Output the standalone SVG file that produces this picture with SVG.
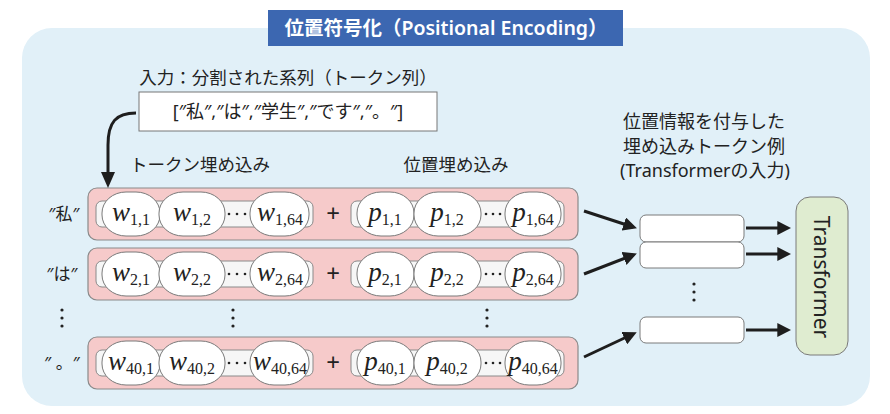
<svg xmlns="http://www.w3.org/2000/svg" width="890" height="414" viewBox="0 0 890 414">
<defs>
<style>
.jp{font-family:"Noto Sans","Noto Sans CJK JP",sans-serif;fill:#222;}
.row{fill:#f6caca;stroke:#8a8a8a;stroke-width:1.2;}
.bar{fill:#f6f6f6;stroke:#8a8a8a;stroke-width:1;}
.ov{fill:#fff;stroke:#7a7a7a;stroke-width:1;}
.m{font-family:"Liberation Serif","DejaVu Serif",serif;font-size:27px;fill:#222;font-style:italic;}
.sub{font-style:normal;font-size:16px;}
.out{fill:#fff;stroke:#7a7a7a;stroke-width:1;}
.con{stroke:#1e1e1e;stroke-width:3;fill:none;}
.dot{fill:#222;}
</style>
<marker id="ah" viewBox="0 0 10 10" markerWidth="4.6" markerHeight="4.6" refX="7" refY="5" orient="auto" markerUnits="strokeWidth">
<path d="M0,0 L10,5 L0,10 z" fill="#1e1e1e"/>
</marker>
</defs>
<rect x="22" y="28" width="848" height="378" rx="30" fill="#e1f0f8"/>
<g id="title">
<rect x="268" y="10" width="355" height="36" fill="#3c67b1"/>
<text x="446" y="35" text-anchor="middle" font-family="'Noto Sans','Noto Sans CJK JP',sans-serif" font-size="19.5" font-weight="600" fill="#fff">位置符号化（Positional Encoding）</text>
</g>
<g id="input">
<text class="jp" x="288" y="84" text-anchor="middle" font-size="17.5">入力：分割された系列（トークン列）</text>
<rect x="139" y="92" width="298" height="39" fill="#fff" stroke="#777" stroke-width="1"/>
<text class="jp" x="288" y="118" text-anchor="middle" font-size="18">[″私″,″は″,″学生″,″です″,″。″]</text>
</g>
<g id="headers">
<text class="jp" x="200" y="171" text-anchor="middle" font-size="17.5">トークン埋め込み</text>
<text class="jp" x="456" y="171" text-anchor="middle" font-size="17.5">位置埋め込み</text>
<text class="jp" x="704" y="128" text-anchor="middle" font-size="18">位置情報を付与した</text>
<text class="jp" x="704" y="153" text-anchor="middle" font-size="18">埋め込みトークン例</text>
<text class="jp" x="705" y="177" text-anchor="middle" font-size="18">(Transformerの入力)</text>
</g>
<g id="row1">
<text class="jp" x="64" y="220" text-anchor="middle" font-size="17">″私″</text>
<rect class="row" x="88" y="188" width="490" height="52" rx="9"/>
<rect class="bar" x="96" y="201" width="217" height="26" rx="6"/>
<rect class="ov" x="102" y="192" width="58" height="44" rx="24" ry="21"/>
<rect class="ov" x="159" y="192" width="66" height="44" rx="24" ry="21"/>
<rect class="ov" x="250" y="192" width="59" height="44" rx="24" ry="21"/>
<text class="m" x="131" y="221" text-anchor="middle">w<tspan class="sub" dy="4">1,1</tspan></text>
<text class="m" x="192" y="221" text-anchor="middle">w<tspan class="sub" dy="4">1,2</tspan></text>
<text class="m" x="280" y="221" text-anchor="middle">w<tspan class="sub" dy="4">1,64</tspan></text>
<circle class="dot" cx="229" cy="214" r="1.3"/><circle class="dot" cx="237" cy="214" r="1.3"/><circle class="dot" cx="245" cy="214" r="1.3"/>
<text class="jp" x="333" y="222" text-anchor="middle" font-size="24">+</text>
<rect class="bar" x="351" y="201" width="213" height="26" rx="6"/>
<rect class="ov" x="357" y="192" width="57" height="44" rx="24" ry="21"/>
<rect class="ov" x="414" y="192" width="67" height="44" rx="24" ry="21"/>
<rect class="ov" x="505" y="192" width="56" height="44" rx="24" ry="21"/>
<text class="m" x="385" y="221" text-anchor="middle">p<tspan class="sub" dy="4">1,1</tspan></text>
<text class="m" x="447" y="221" text-anchor="middle">p<tspan class="sub" dy="4">1,2</tspan></text>
<text class="m" x="533" y="221" text-anchor="middle">p<tspan class="sub" dy="4">1,64</tspan></text>
<circle class="dot" cx="486" cy="214" r="1.3"/><circle class="dot" cx="493" cy="214" r="1.3"/><circle class="dot" cx="500" cy="214" r="1.3"/>
</g>
<g id="row2">
<text class="jp" x="62" y="280" text-anchor="middle" font-size="17">″は″</text>
<rect class="row" x="88" y="248" width="490" height="52" rx="9"/>
<rect class="bar" x="96" y="261" width="217" height="26" rx="6"/>
<rect class="ov" x="102" y="252" width="58" height="44" rx="24" ry="21"/>
<rect class="ov" x="159" y="252" width="66" height="44" rx="24" ry="21"/>
<rect class="ov" x="250" y="252" width="59" height="44" rx="24" ry="21"/>
<text class="m" x="131" y="281" text-anchor="middle">w<tspan class="sub" dy="4">2,1</tspan></text>
<text class="m" x="192" y="281" text-anchor="middle">w<tspan class="sub" dy="4">2,2</tspan></text>
<text class="m" x="280" y="281" text-anchor="middle">w<tspan class="sub" dy="4">2,64</tspan></text>
<circle class="dot" cx="229" cy="274" r="1.3"/><circle class="dot" cx="237" cy="274" r="1.3"/><circle class="dot" cx="245" cy="274" r="1.3"/>
<text class="jp" x="333" y="282" text-anchor="middle" font-size="24">+</text>
<rect class="bar" x="351" y="261" width="213" height="26" rx="6"/>
<rect class="ov" x="357" y="252" width="57" height="44" rx="24" ry="21"/>
<rect class="ov" x="414" y="252" width="67" height="44" rx="24" ry="21"/>
<rect class="ov" x="505" y="252" width="56" height="44" rx="24" ry="21"/>
<text class="m" x="385" y="281" text-anchor="middle">p<tspan class="sub" dy="4">2,1</tspan></text>
<text class="m" x="447" y="281" text-anchor="middle">p<tspan class="sub" dy="4">2,2</tspan></text>
<text class="m" x="533" y="281" text-anchor="middle">p<tspan class="sub" dy="4">2,64</tspan></text>
<circle class="dot" cx="486" cy="274" r="1.3"/><circle class="dot" cx="493" cy="274" r="1.3"/><circle class="dot" cx="500" cy="274" r="1.3"/>
</g>
<g id="vdots">
<circle class="dot" cx="62" cy="310" r="1.6"/><circle class="dot" cx="62" cy="318" r="1.6"/><circle class="dot" cx="62" cy="326" r="1.6"/>
<circle class="dot" cx="233" cy="310" r="1.6"/><circle class="dot" cx="233" cy="318" r="1.6"/><circle class="dot" cx="233" cy="326" r="1.6"/>
<circle class="dot" cx="487" cy="310" r="1.6"/><circle class="dot" cx="487" cy="318" r="1.6"/><circle class="dot" cx="487" cy="326" r="1.6"/>
<circle class="dot" cx="694" cy="284" r="1.6"/><circle class="dot" cx="694" cy="292" r="1.6"/><circle class="dot" cx="694" cy="300" r="1.6"/>
</g>
<g id="row3">
<text class="jp" x="62" y="369" text-anchor="middle" font-size="17">″ 。″</text>
<rect class="row" x="88" y="337" width="490" height="52" rx="9"/>
<rect class="bar" x="96" y="350" width="217" height="26" rx="6"/>
<rect class="ov" x="102" y="341" width="58" height="44" rx="24" ry="21"/>
<rect class="ov" x="159" y="341" width="66" height="44" rx="24" ry="21"/>
<rect class="ov" x="250" y="341" width="59" height="44" rx="24" ry="21"/>
<text class="m" x="131" y="370" text-anchor="middle">w<tspan class="sub" dy="4">40,1</tspan></text>
<text class="m" x="192" y="370" text-anchor="middle">w<tspan class="sub" dy="4">40,2</tspan></text>
<text class="m" x="280" y="370" text-anchor="middle">w<tspan class="sub" dy="4">40,64</tspan></text>
<circle class="dot" cx="229" cy="363" r="1.3"/><circle class="dot" cx="237" cy="363" r="1.3"/><circle class="dot" cx="245" cy="363" r="1.3"/>
<text class="jp" x="333" y="371" text-anchor="middle" font-size="24">+</text>
<rect class="bar" x="351" y="350" width="213" height="26" rx="6"/>
<rect class="ov" x="357" y="341" width="57" height="44" rx="24" ry="21"/>
<rect class="ov" x="414" y="341" width="67" height="44" rx="24" ry="21"/>
<rect class="ov" x="505" y="341" width="56" height="44" rx="24" ry="21"/>
<text class="m" x="385" y="370" text-anchor="middle">p<tspan class="sub" dy="4">40,1</tspan></text>
<text class="m" x="447" y="370" text-anchor="middle">p<tspan class="sub" dy="4">40,2</tspan></text>
<text class="m" x="533" y="370" text-anchor="middle">p<tspan class="sub" dy="4">40,64</tspan></text>
<circle class="dot" cx="486" cy="363" r="1.3"/><circle class="dot" cx="493" cy="363" r="1.3"/><circle class="dot" cx="500" cy="363" r="1.3"/>
</g>
<g id="out1"><rect class="out" x="640" y="215" width="104" height="27" rx="6"/></g>
<g id="out2"><rect class="out" x="640" y="242" width="104" height="26" rx="6"/></g>
<g id="out3"><rect class="out" x="640" y="317" width="104" height="26" rx="6"/></g>
<g id="transformer">
<rect x="796" y="197" width="52" height="158" rx="14" fill="#dfecd0" stroke="#7a7a7a" stroke-width="1"/>
<text x="822" y="277" transform="rotate(90 822 277)" text-anchor="middle" dominant-baseline="central" font-family="'Noto Sans',sans-serif" font-size="21" fill="#222">Transformer</text>
</g>
<g id="connectors">
<path class="con" d="M136,113 C116,113 108,122 108,145 L108,176"/>
<polygon points="101,172 115,172 108,188" fill="#1e1e1e"/>
<line class="con" x1="584" y1="211" x2="633" y2="227" marker-end="url(#ah)"/>
<line class="con" x1="584" y1="274" x2="633" y2="255" marker-end="url(#ah)"/>
<line class="con" x1="584" y1="357" x2="633" y2="334" marker-end="url(#ah)"/>
<line class="con" x1="746" y1="228" x2="787" y2="228" marker-end="url(#ah)"/>
<line class="con" x1="746" y1="254" x2="787" y2="254" marker-end="url(#ah)"/>
<line class="con" x1="746" y1="330" x2="787" y2="330" marker-end="url(#ah)"/>
</g>
</svg>
